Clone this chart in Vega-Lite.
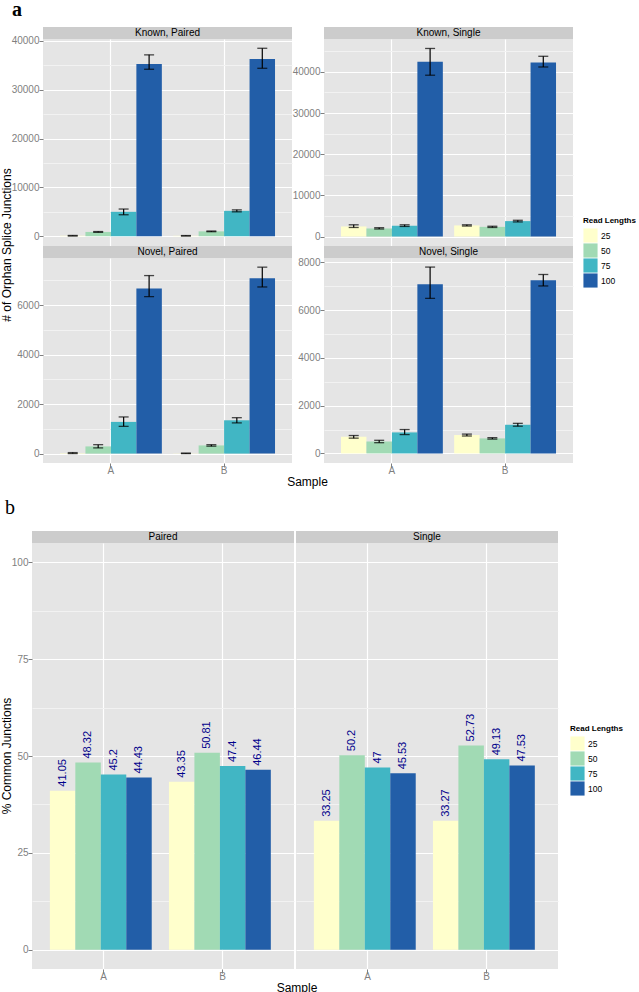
{
  "$schema": "https://vega.github.io/schema/vega-lite/v6.json",
  "padding": {"top": 0, "left": 0, "right": 0, "bottom": 0},
  "autosize": {"type": "pad"},
  "datasets": {
    "orphan": [
      {"panel": "Known, Paired", "sample": "A", "len": "25", "value": 100, "lo": 40, "hi": 160},
      {"panel": "Known, Paired", "sample": "A", "len": "50", "value": 880, "lo": 800, "hi": 960},
      {"panel": "Known, Paired", "sample": "A", "len": "75", "value": 5000, "lo": 4400, "hi": 5570},
      {"panel": "Known, Paired", "sample": "A", "len": "100", "value": 35300, "lo": 34200, "hi": 37150},
      {"panel": "Known, Paired", "sample": "B", "len": "25", "value": 90, "lo": 40, "hi": 140},
      {"panel": "Known, Paired", "sample": "B", "len": "50", "value": 1000, "lo": 930, "hi": 1070},
      {"panel": "Known, Paired", "sample": "B", "len": "75", "value": 5200, "lo": 5000, "hi": 5400},
      {"panel": "Known, Paired", "sample": "B", "len": "100", "value": 36300, "lo": 34400, "hi": 38500},
      {"panel": "Known, Single", "sample": "A", "len": "25", "value": 2450, "lo": 2200, "hi": 2850},
      {"panel": "Known, Single", "sample": "A", "len": "50", "value": 1960, "lo": 1830, "hi": 2150},
      {"panel": "Known, Single", "sample": "A", "len": "75", "value": 2620, "lo": 2450, "hi": 2850},
      {"panel": "Known, Single", "sample": "A", "len": "100", "value": 42500, "lo": 39200, "hi": 45700},
      {"panel": "Known, Single", "sample": "B", "len": "25", "value": 2700, "lo": 2550, "hi": 2850},
      {"panel": "Known, Single", "sample": "B", "len": "50", "value": 2350, "lo": 2200, "hi": 2500},
      {"panel": "Known, Single", "sample": "B", "len": "75", "value": 3750, "lo": 3550, "hi": 3950},
      {"panel": "Known, Single", "sample": "B", "len": "100", "value": 42300, "lo": 41200, "hi": 43800},
      {"panel": "Novel, Paired", "sample": "A", "len": "25", "value": 20, "lo": 0, "hi": 40},
      {"panel": "Novel, Paired", "sample": "A", "len": "50", "value": 290, "lo": 230, "hi": 360},
      {"panel": "Novel, Paired", "sample": "A", "len": "75", "value": 1280, "lo": 1100, "hi": 1480},
      {"panel": "Novel, Paired", "sample": "A", "len": "100", "value": 6670, "lo": 6340, "hi": 7190},
      {"panel": "Novel, Paired", "sample": "B", "len": "25", "value": 10, "lo": 0, "hi": 20},
      {"panel": "Novel, Paired", "sample": "B", "len": "50", "value": 330, "lo": 300, "hi": 360},
      {"panel": "Novel, Paired", "sample": "B", "len": "75", "value": 1345, "lo": 1240, "hi": 1450},
      {"panel": "Novel, Paired", "sample": "B", "len": "100", "value": 7080, "lo": 6730, "hi": 7530},
      {"panel": "Novel, Single", "sample": "A", "len": "25", "value": 700, "lo": 640, "hi": 750},
      {"panel": "Novel, Single", "sample": "A", "len": "50", "value": 500, "lo": 450, "hi": 550},
      {"panel": "Novel, Single", "sample": "A", "len": "75", "value": 880, "lo": 790, "hi": 1000},
      {"panel": "Novel, Single", "sample": "A", "len": "100", "value": 7080, "lo": 6490, "hi": 7800},
      {"panel": "Novel, Single", "sample": "B", "len": "25", "value": 770, "lo": 730, "hi": 810},
      {"panel": "Novel, Single", "sample": "B", "len": "50", "value": 630, "lo": 600, "hi": 660},
      {"panel": "Novel, Single", "sample": "B", "len": "75", "value": 1200, "lo": 1140, "hi": 1260},
      {"panel": "Novel, Single", "sample": "B", "len": "100", "value": 7250, "lo": 7010, "hi": 7490}
    ],
    "common": [
      {"type": "Paired", "sample": "A", "len": "25", "pct": 41.05},
      {"type": "Paired", "sample": "A", "len": "50", "pct": 48.32},
      {"type": "Paired", "sample": "A", "len": "75", "pct": 45.2},
      {"type": "Paired", "sample": "A", "len": "100", "pct": 44.43},
      {"type": "Paired", "sample": "B", "len": "25", "pct": 43.35},
      {"type": "Paired", "sample": "B", "len": "50", "pct": 50.81},
      {"type": "Paired", "sample": "B", "len": "75", "pct": 47.4},
      {"type": "Paired", "sample": "B", "len": "100", "pct": 46.44},
      {"type": "Single", "sample": "A", "len": "25", "pct": 33.25},
      {"type": "Single", "sample": "A", "len": "50", "pct": 50.2},
      {"type": "Single", "sample": "A", "len": "75", "pct": 47},
      {"type": "Single", "sample": "A", "len": "100", "pct": 45.53},
      {"type": "Single", "sample": "B", "len": "25", "pct": 33.27},
      {"type": "Single", "sample": "B", "len": "50", "pct": 52.73},
      {"type": "Single", "sample": "B", "len": "75", "pct": 49.13},
      {"type": "Single", "sample": "B", "len": "100", "pct": 47.53}
    ]
  },
  "resolve": {"legend": {"color": "independent"}},
  "spacing": 5,
  "vconcat": [
    {
      "title": {"text": "a", "anchor": "start", "font": "Liberation Serif", "fontSize": 20, "fontWeight": "bold", "color": "#000000", "dx": 11, "offset": 7},
      "spacing": 0,
      "vconcat": [
        {
          "spacing": -2,
          "hconcat": [
            {"width": 12, "height": 436, "view": {"fill": "transparent", "stroke": null},
             "data": {"values": [{"label": "# of Orphan Splice Junctions"}]},
             "mark": {"type": "text", "angle": 270, "fontSize": 12, "baseline": "middle", "align": "center", "color": "#000000"},
             "encoding": {"text": {"field": "label"}}},
            {
              "spacing": 0,
              "hconcat": [
                {
                  "spacing": 0,
                  "bounds": "flush",
                  "vconcat": [
                    {"width": 249, "height": 12, "view": {"fill": "#cccccc", "stroke": null},
                     "data": {"values": [{"label": "Known, Paired"}]},
                     "mark": {"type": "text", "fontSize": 10, "baseline": "middle", "color": "#000000"},
                     "encoding": {"text": {"field": "label"}}},
                    {"width": 249, "height": 207, "view": {"fill": "#e5e5e5", "stroke": null},
                     "data": {"name": "orphan"},
                     "transform": [{"filter": "datum.panel === 'Known, Paired'"}],
                     "encoding": {
                       "x": {"field": "sample", "type": "nominal", "scale": {"paddingInner": 0.1, "paddingOuter": 0.15}, "axis": {"title": null, "labels": false, "ticks": false, "grid": true, "bandPosition": 0.5}},
                       "xOffset": {"field": "len", "type": "nominal", "scale": {"domain": ["25", "50", "75", "100"], "paddingInner": 0, "paddingOuter": 0}}
                     },
                     "layer": [
                       {"mark": {"type": "bar"},
                        "encoding": {
                          "y": {"field": "value", "type": "quantitative", "scale": {"domain": [-2000, 40400], "nice": false}, "axis": {"values": [0, 10000, 20000, 30000, 40000], "format": "d", "title": null, "grid": true}},
                          "color": {"field": "len", "type": "nominal", "title": "Read Lengths", "scale": {"domain": ["25", "50", "75", "100"], "range": ["#ffffcc", "#a1dab4", "#41b6c4", "#225ea8"]}, "legend": {"orient": "none", "legendX": 582, "legendY": 190, "direction": "vertical"}}
                        }},
                       {"mark": {"type": "rule", "color": "#000000", "strokeWidth": 1.2},
                        "encoding": {"y": {"field": "lo", "type": "quantitative", "axis": null}, "y2": {"field": "hi"}}},
                       {"mark": {"type": "tick", "color": "#000000", "size": 10, "thickness": 1.3},
                        "encoding": {"y": {"field": "lo", "type": "quantitative", "axis": {"orient": "right", "values": [5000, 15000, 25000, 35000], "labels": false, "ticks": false, "domain": false, "grid": true, "gridColor": "#f2f2f2", "title": null}}}},
                       {"mark": {"type": "tick", "color": "#000000", "size": 10, "thickness": 1.3},
                        "encoding": {"y": {"field": "hi", "type": "quantitative", "axis": null}}}
                     ],
                     "resolve": {"axis": {"y": "independent"}}},
                    {"width": 249, "height": 12, "view": {"fill": "#cccccc", "stroke": null},
                     "data": {"values": [{"label": "Novel, Paired"}]},
                     "mark": {"type": "text", "fontSize": 10, "baseline": "middle", "color": "#000000"},
                     "encoding": {"text": {"field": "label"}}},
                    {"width": 249, "height": 205, "view": {"fill": "#e5e5e5", "stroke": null},
                     "data": {"name": "orphan"},
                     "transform": [{"filter": "datum.panel === 'Novel, Paired'"}],
                     "encoding": {
                       "x": {"field": "sample", "type": "nominal", "scale": {"paddingInner": 0.1, "paddingOuter": 0.15}, "axis": {"title": null, "labelAngle": 0, "grid": true, "bandPosition": 0.5}},
                       "xOffset": {"field": "len", "type": "nominal", "scale": {"domain": ["25", "50", "75", "100"], "paddingInner": 0, "paddingOuter": 0}}
                     },
                     "layer": [
                       {"mark": {"type": "bar"},
                        "encoding": {
                          "y": {"field": "value", "type": "quantitative", "scale": {"domain": [-380, 7900], "nice": false}, "axis": {"values": [0, 2000, 4000, 6000], "format": "d", "title": null, "grid": true}},
                          "color": {"field": "len", "type": "nominal", "title": "Read Lengths", "scale": {"domain": ["25", "50", "75", "100"], "range": ["#ffffcc", "#a1dab4", "#41b6c4", "#225ea8"]}, "legend": {"orient": "none", "legendX": 582, "legendY": 190, "direction": "vertical"}}
                        }},
                       {"mark": {"type": "rule", "color": "#000000", "strokeWidth": 1.2},
                        "encoding": {"y": {"field": "lo", "type": "quantitative", "axis": null}, "y2": {"field": "hi"}}},
                       {"mark": {"type": "tick", "color": "#000000", "size": 10, "thickness": 1.3},
                        "encoding": {"y": {"field": "lo", "type": "quantitative", "axis": {"orient": "right", "values": [1000, 3000, 5000, 7000], "labels": false, "ticks": false, "domain": false, "grid": true, "gridColor": "#f2f2f2", "title": null}}}},
                       {"mark": {"type": "tick", "color": "#000000", "size": 10, "thickness": 1.3},
                        "encoding": {"y": {"field": "hi", "type": "quantitative", "axis": null}}}
                     ],
                     "resolve": {"axis": {"y": "independent"}}}
                  ]
                },
                {
                  "spacing": 0,
                  "bounds": "flush",
                  "vconcat": [
                    {"width": 249, "height": 12, "view": {"fill": "#cccccc", "stroke": null},
                     "data": {"values": [{"label": "Known, Single"}]},
                     "mark": {"type": "text", "fontSize": 10, "baseline": "middle", "color": "#000000"},
                     "encoding": {"text": {"field": "label"}}},
                    {"width": 249, "height": 207, "view": {"fill": "#e5e5e5", "stroke": null},
                     "data": {"name": "orphan"},
                     "transform": [{"filter": "datum.panel === 'Known, Single'"}],
                     "encoding": {
                       "x": {"field": "sample", "type": "nominal", "scale": {"paddingInner": 0.1, "paddingOuter": 0.15}, "axis": {"title": null, "labels": false, "ticks": false, "grid": true, "bandPosition": 0.5}},
                       "xOffset": {"field": "len", "type": "nominal", "scale": {"domain": ["25", "50", "75", "100"], "paddingInner": 0, "paddingOuter": 0}}
                     },
                     "layer": [
                       {"mark": {"type": "bar"},
                        "encoding": {
                          "y": {"field": "value", "type": "quantitative", "scale": {"domain": [-2300, 48000], "nice": false}, "axis": {"values": [0, 10000, 20000, 30000, 40000], "format": "d", "title": null, "grid": true}},
                          "color": {"field": "len", "type": "nominal", "title": "Read Lengths", "scale": {"domain": ["25", "50", "75", "100"], "range": ["#ffffcc", "#a1dab4", "#41b6c4", "#225ea8"]}, "legend": {"orient": "none", "legendX": 582, "legendY": 190, "direction": "vertical"}}
                        }},
                       {"mark": {"type": "rule", "color": "#000000", "strokeWidth": 1.2},
                        "encoding": {"y": {"field": "lo", "type": "quantitative", "axis": null}, "y2": {"field": "hi"}}},
                       {"mark": {"type": "tick", "color": "#000000", "size": 10, "thickness": 1.3},
                        "encoding": {"y": {"field": "lo", "type": "quantitative", "axis": {"orient": "right", "values": [5000, 15000, 25000, 35000, 45000], "labels": false, "ticks": false, "domain": false, "grid": true, "gridColor": "#f2f2f2", "title": null}}}},
                       {"mark": {"type": "tick", "color": "#000000", "size": 10, "thickness": 1.3},
                        "encoding": {"y": {"field": "hi", "type": "quantitative", "axis": null}}}
                     ],
                     "resolve": {"axis": {"y": "independent"}}},
                    {"width": 249, "height": 12, "view": {"fill": "#cccccc", "stroke": null},
                     "data": {"values": [{"label": "Novel, Single"}]},
                     "mark": {"type": "text", "fontSize": 10, "baseline": "middle", "color": "#000000"},
                     "encoding": {"text": {"field": "label"}}},
                    {"width": 249, "height": 205, "view": {"fill": "#e5e5e5", "stroke": null},
                     "data": {"name": "orphan"},
                     "transform": [{"filter": "datum.panel === 'Novel, Single'"}],
                     "encoding": {
                       "x": {"field": "sample", "type": "nominal", "scale": {"paddingInner": 0.1, "paddingOuter": 0.15}, "axis": {"title": null, "labelAngle": 0, "grid": true, "bandPosition": 0.5}},
                       "xOffset": {"field": "len", "type": "nominal", "scale": {"domain": ["25", "50", "75", "100"], "paddingInner": 0, "paddingOuter": 0}}
                     },
                     "layer": [
                       {"mark": {"type": "bar"},
                        "encoding": {
                          "y": {"field": "value", "type": "quantitative", "scale": {"domain": [-400, 8180], "nice": false}, "axis": {"values": [0, 2000, 4000, 6000, 8000], "format": "d", "title": null, "grid": true}},
                          "color": {"field": "len", "type": "nominal", "title": "Read Lengths", "scale": {"domain": ["25", "50", "75", "100"], "range": ["#ffffcc", "#a1dab4", "#41b6c4", "#225ea8"]}, "legend": {"orient": "none", "legendX": 582, "legendY": 190, "direction": "vertical"}}
                        }},
                       {"mark": {"type": "rule", "color": "#000000", "strokeWidth": 1.2},
                        "encoding": {"y": {"field": "lo", "type": "quantitative", "axis": null}, "y2": {"field": "hi"}}},
                       {"mark": {"type": "tick", "color": "#000000", "size": 10, "thickness": 1.3},
                        "encoding": {"y": {"field": "lo", "type": "quantitative", "axis": {"orient": "right", "values": [1000, 3000, 5000, 7000], "labels": false, "ticks": false, "domain": false, "grid": true, "gridColor": "#f2f2f2", "title": null}}}},
                       {"mark": {"type": "tick", "color": "#000000", "size": 10, "thickness": 1.3},
                        "encoding": {"y": {"field": "hi", "type": "quantitative", "axis": null}}}
                     ],
                     "resolve": {"axis": {"y": "independent"}}}
                  ]
                }
              ]
            }
          ]
        },
        {"width": 613, "height": 11, "view": {"fill": "transparent", "stroke": null},
         "data": {"values": [{"label": "Sample"}]},
         "mark": {"type": "text", "fontSize": 12, "baseline": "middle", "color": "#000000", "dy": -6},
         "encoding": {"text": {"field": "label"}}}
      ]
    },
    {
      "title": {"text": "b", "anchor": "start", "font": "Liberation Serif", "fontSize": 20, "fontWeight": "normal", "color": "#000000", "dx": 4, "offset": 13},
      "spacing": 0,
      "vconcat": [
        {
          "spacing": -2,
          "hconcat": [
            {"width": 12, "height": 438, "view": {"fill": "transparent", "stroke": null},
             "data": {"values": [{"label": "% Common Junctions"}]},
             "mark": {"type": "text", "angle": 270, "fontSize": 12, "baseline": "middle", "align": "center", "color": "#000000", "dx": -6},
             "encoding": {"text": {"field": "label"}}},
            {
              "spacing": 2,
              "hconcat": [
                {
                  "spacing": 0,
                  "bounds": "flush",
                  "vconcat": [
                    {"width": 262, "height": 12, "view": {"fill": "#cccccc", "stroke": null},
                     "data": {"values": [{"label": "Paired"}]},
                     "mark": {"type": "text", "fontSize": 10, "baseline": "middle", "color": "#000000"},
                     "encoding": {"text": {"field": "label"}}},
                    {"width": 262, "height": 426, "view": {"fill": "#e5e5e5", "stroke": null},
                     "data": {"name": "common"},
                     "transform": [{"filter": "datum.type === 'Paired'"}],
                     "encoding": {
                       "x": {"field": "sample", "type": "nominal", "scale": {"paddingInner": 0.1, "paddingOuter": 0.15}, "axis": {"title": null, "labelAngle": 0, "grid": true, "bandPosition": 0.5}},
                       "xOffset": {"field": "len", "type": "nominal", "scale": {"domain": ["25", "50", "75", "100"], "paddingInner": 0, "paddingOuter": 0}}
                     },
                     "layer": [
                       {"mark": {"type": "bar"},
                        "encoding": {
                          "y": {"field": "pct", "type": "quantitative", "scale": {"domain": [-5, 105], "nice": false}, "axis": {"values": [0, 25, 50, 75, 100], "title": null, "grid": true}},
                          "color": {"field": "len", "type": "nominal", "title": "Read Lengths", "scale": {"domain": ["25", "50", "75", "100"], "range": ["#ffffcc", "#a1dab4", "#41b6c4", "#225ea8"]}, "legend": {"orient": "none", "legendX": 569, "legendY": 194, "direction": "vertical"}}
                        }},
                       {"mark": {"type": "text", "angle": 270, "align": "left", "baseline": "middle", "dx": 4, "color": "#00008b", "fontSize": 11},
                        "encoding": {
                          "y": {"field": "pct", "type": "quantitative", "axis": {"orient": "right", "values": [12.5, 37.5, 62.5, 87.5], "labels": false, "ticks": false, "domain": false, "grid": true, "gridColor": "#f2f2f2", "title": null}},
                          "text": {"field": "pct", "type": "quantitative"}
                        }}
                     ],
                     "resolve": {"axis": {"y": "independent"}}}
                  ]
                },
                {
                  "spacing": 0,
                  "bounds": "flush",
                  "vconcat": [
                    {"width": 262, "height": 12, "view": {"fill": "#cccccc", "stroke": null},
                     "data": {"values": [{"label": "Single"}]},
                     "mark": {"type": "text", "fontSize": 10, "baseline": "middle", "color": "#000000"},
                     "encoding": {"text": {"field": "label"}}},
                    {"width": 262, "height": 426, "view": {"fill": "#e5e5e5", "stroke": null},
                     "data": {"name": "common"},
                     "transform": [{"filter": "datum.type === 'Single'"}],
                     "encoding": {
                       "x": {"field": "sample", "type": "nominal", "scale": {"paddingInner": 0.1, "paddingOuter": 0.15}, "axis": {"title": null, "labelAngle": 0, "grid": true, "bandPosition": 0.5}},
                       "xOffset": {"field": "len", "type": "nominal", "scale": {"domain": ["25", "50", "75", "100"], "paddingInner": 0, "paddingOuter": 0}}
                     },
                     "layer": [
                       {"mark": {"type": "bar"},
                        "encoding": {
                          "y": {"field": "pct", "type": "quantitative", "scale": {"domain": [-5, 105], "nice": false}, "axis": {"values": [0, 25, 50, 75, 100], "labels": false, "ticks": false, "title": null, "grid": true}},
                          "color": {"field": "len", "type": "nominal", "title": "Read Lengths", "scale": {"domain": ["25", "50", "75", "100"], "range": ["#ffffcc", "#a1dab4", "#41b6c4", "#225ea8"]}, "legend": {"orient": "none", "legendX": 569, "legendY": 194, "direction": "vertical"}}
                        }},
                       {"mark": {"type": "text", "angle": 270, "align": "left", "baseline": "middle", "dx": 4, "color": "#00008b", "fontSize": 11},
                        "encoding": {
                          "y": {"field": "pct", "type": "quantitative", "axis": {"orient": "right", "values": [12.5, 37.5, 62.5, 87.5], "labels": false, "ticks": false, "domain": false, "grid": true, "gridColor": "#f2f2f2", "title": null}},
                          "text": {"field": "pct", "type": "quantitative"}
                        }}
                     ],
                     "resolve": {"axis": {"y": "independent"}}}
                  ]
                }
              ]
            }
          ]
        },
        {"width": 592, "height": 11, "view": {"fill": "transparent", "stroke": null},
         "data": {"values": [{"label": "Sample"}]},
         "mark": {"type": "text", "fontSize": 12, "baseline": "middle", "color": "#000000", "dy": -10},
         "encoding": {"text": {"field": "label"}}}
      ]
    }
  ],
  "config": {
    "font": "Liberation Sans",
    "view": {"stroke": null},
    "axis": {"domain": false, "gridColor": "#ffffff", "gridWidth": 1.2, "tickColor": "#7f7f7f", "tickSize": 4, "tickWidth": 1, "labelColor": "#7f7f7f", "labelFont": "Liberation Sans", "labelFontSize": 10, "titleFont": "Liberation Sans", "titleFontSize": 12, "titleFontWeight": "normal", "titleColor": "#000000"},
    "axisX": {"labelPadding": -2},
    "axisY": {"labelPadding": 0},
    "legend": {"titleFont": "Liberation Sans", "titleFontSize": 8, "titleFontWeight": "bold", "titleColor": "#000000", "labelFont": "Liberation Sans", "labelFontSize": 8.5, "labelColor": "#000000", "symbolType": "square", "symbolSize": 200, "symbolStrokeWidth": 0, "symbolOpacity": 1, "rowPadding": 0, "labelOffset": 3, "titlePadding": 3},
    "bar": {"stroke": null}
  }
}
